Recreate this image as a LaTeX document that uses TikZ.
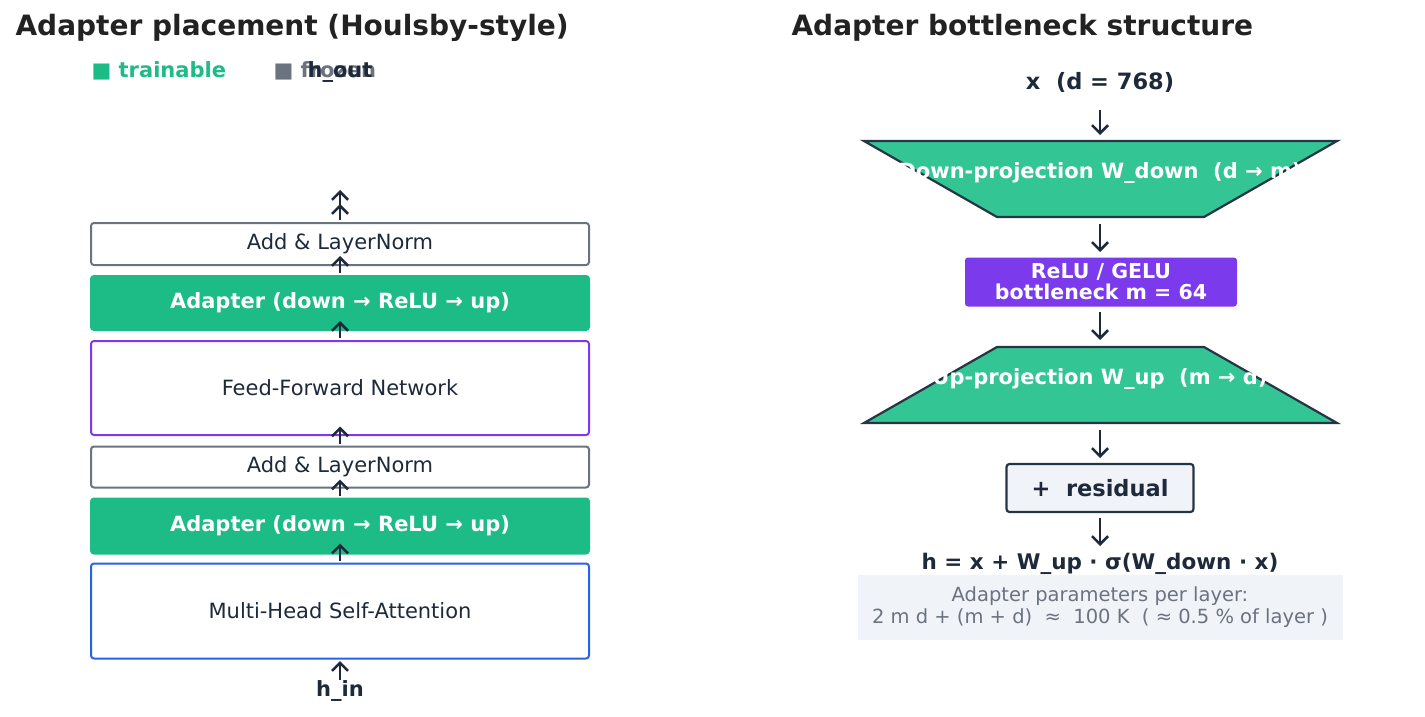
\documentclass[tikz,border=0pt]{standalone}
\usepackage{fontspec}
\setmainfont{DejaVu Sans}
\usetikzlibrary{arrows.meta}
\definecolor{grn}{HTML}{1DBB85}
\definecolor{grnl}{HTML}{34C594}
\definecolor{pur}{HTML}{7C3AED}
\definecolor{blu}{HTML}{2563EB}
\definecolor{gry}{HTML}{6B7280}
\definecolor{ink}{HTML}{1E293B}
\definecolor{edge}{HTML}{263545}
\definecolor{pale}{HTML}{F0F3F8}
\definecolor{ttl}{HTML}{222222}
\begin{document}
\begin{tikzpicture}[x=1pt,y=-1pt,
  arr/.style={draw=ink,line width=2.6pt,-{Straight Barb[length=8pt,width=16pt,line width=2.6pt]}},
  lbox/.style={rounded corners=3pt,line width=2pt,minimum width=498pt,font=\fontsize{21}{24}\selectfont,text=ink},
  abox/.style={lbox,fill=grn,draw=grn,text=white,font=\fontsize{21}{24}\selectfont\bfseries},
  trap/.style={fill=grnl,draw=edge,line width=2.2pt,line join=miter}]
\useasboundingbox (0,0) rectangle (1425,717);
\node[anchor=west,font=\fontsize{28}{32}\selectfont\bfseries,text=ttl] (t1) at (12,28) {Adapter placement (Houlsby-style)};
\node[anchor=west,font=\fontsize{28}{32}\selectfont\bfseries,text=ttl] (t2) at (788,28) {Adapter bottleneck structure};
\node[anchor=west,font=\fontsize{21}{24}\selectfont\bfseries,text=grn] (lg1) at (88,71) {■ trainable};
\node[anchor=west,font=\fontsize{21}{24}\selectfont\bfseries,text=gry] (lg2) at (270,71) {■ frozen};
\node[font=\fontsize{21}{24}\selectfont\bfseries,text=ink] (hout) at (340,72) {h\_out};
\node[font=\fontsize{21}{24}\selectfont\bfseries,text=ink] (hin) at (340,691) {h\_in};
% left boxes
\node[lbox,draw=gry,minimum height=42pt] (ln2) at (340,244) {Add \& LayerNorm};
\node[abox,minimum height=54pt] (ad2) at (340,303) {Adapter (down → ReLU → up)};
\node[lbox,draw=pur,minimum height=94pt] (ffn) at (340,388) {Feed-Forward Network};
\node[lbox,draw=gry,minimum height=41pt] (ln1) at (340,467) {Add \& LayerNorm};
\node[abox,minimum height=55pt] (ad1) at (340,526) {Adapter (down → ReLU → up)};
\node[lbox,draw=blu,minimum height=95pt] (mh) at (340,611) {Multi-Head Self-Attention};
\coordinate (a0) at (340,212);
\draw[arr] ([yshift=-3pt]hin.north) -- ([yshift=16pt]hin.north);
\draw[arr] ([yshift=2pt]mh.north) -- ([yshift=19pt]mh.north);
\draw[arr] ([yshift=2pt]ad1.north) -- ([yshift=18pt]ad1.north);
\draw[arr] ([yshift=2pt]ln1.north) -- ([yshift=19pt]ln1.north);
\draw[arr] ([yshift=2pt]ffn.north) -- ([yshift=19pt]ffn.north);
\draw[arr] ([yshift=2pt]ad2.north) -- ([yshift=19pt]ad2.north);
\draw[arr] ([yshift=2pt]ln2.north) -- ([yshift=18pt]ln2.north);
\draw[arr] (a0) -- (340,190);
% right
\node[font=\fontsize{22.5}{26}\selectfont\bfseries,text=ink] (x) at (1100,82) {x\ \ (d = 768)};
\draw[trap] (864,141) -- (1337,141) -- (1204,217) -- (997,217) -- cycle;
\node[font=\fontsize{21}{24}\selectfont\bfseries,text=white] (dn) at (1100,173) {Down-projection W\_down\ \ (d → m)};
\node[fill=pur,rounded corners=3pt,minimum width=272pt,minimum height=49pt,align=center,text=white,font=\fontsize{20.5}{21}\selectfont\bfseries] (relu) at (1101,282) {ReLU / GELU\\bottleneck m = 64};
\draw[trap] (997,347) -- (1204,347) -- (1337,423) -- (864,423) -- cycle;
\node[font=\fontsize{21}{24}\selectfont\bfseries,text=white] (up) at (1100,379) {Up-projection W\_up\ \ (m → d)};
\node[fill=pale,draw=edge,line width=2.2pt,rounded corners=3pt,minimum width=187pt,minimum height=48pt,text=ink,font=\fontsize{22.5}{26}\selectfont\bfseries] (res) at (1100,488) {+\ \ residual};
\node[font=\fontsize{21.5}{26}\selectfont\bfseries,text=ink] (f) at (1100,564) {h = x + W\_up · σ(W\_down · x)};
\node[fill=pale,minimum width=485pt,minimum height=65pt,align=center,text=gry,font=\fontsize{19.5}{22}\selectfont] (par) at (1100,607) {Adapter parameters per layer:\\2 m d + (m + d)\ \ ≈\ \ 100 K\ \ ( ≈ 0.5 \% of layer )};
\draw[arr] (1100,110) -- (1100,135);
\draw[arr] (1100,224) -- (1100,252);
\draw[arr] (1100,312) -- (1100,340);
\draw[arr] (1100,430) -- (1100,458);
\draw[arr] (1100,518) -- (1100,546);
\end{tikzpicture}
\end{document}
